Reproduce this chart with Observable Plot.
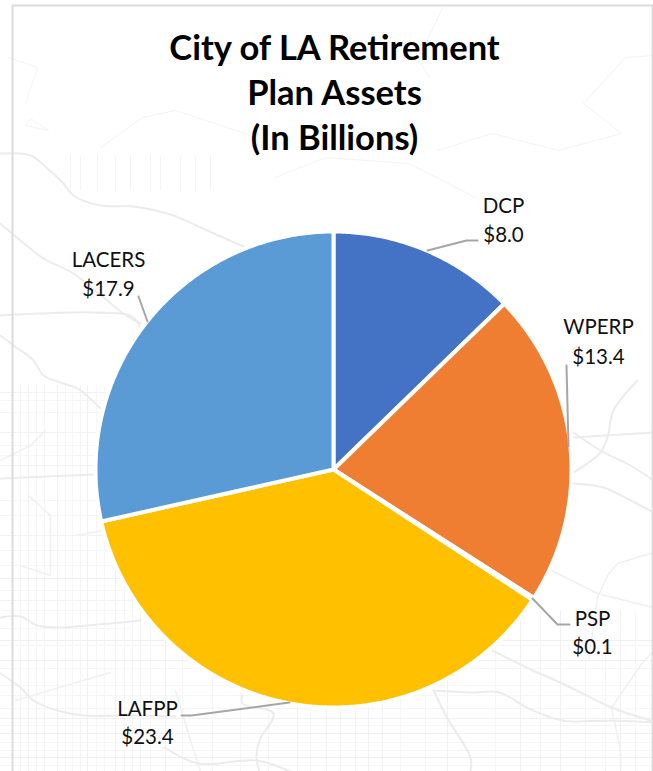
<!DOCTYPE html>
<html>
<head>
<meta charset="utf-8">
<script src="https://cdn.jsdelivr.net/npm/d3@7"></script>
<script src="https://cdn.jsdelivr.net/npm/@observablehq/plot@0.6"></script>
<style>html,body{margin:0;padding:0;background:#fff}svg{display:block}</style>
</head>
<body>
<div id="chart"></div>
<script>
// Chart data
const names = ["DCP", "WPERP", "PSP", "LAFPP", "LACERS"];
const assets = [8.0, 13.4, 0.1, 23.4, 17.9];
const sliceColors = ["#4472c4", "#ef7e32", "#a5a5a5", "#ffc000", "#5b9bd5"];
const titleLines = ["City of LA Retirement", "Plan Assets", "(In Billions)"];

// Layout (plot units are the page's pixels)
const W = 653, H = 771, cx = 333, cy = 469, R = 238;
const titleY = [59, 104, 149];
const labelX = [503, 598, 592, 147, 108];
const labelY = [212, 333, 625, 715, 266];
const labelStep = [29, 30, 28, 28, 29];
const leaders = [
  [[427, 250], [466, 240], [477, 240]],
  [[566, 365], [568, 446]],
  [[532, 598], [557, 624], [569, 624]],
  [[289, 702], [191, 715], [181, 715]],
  [[138, 296], [147, 321]]
];
const frame = [[12, 771], [12, 5], [652, 5], [652, 771]];

// Faint base map behind the chart
const highways = [
  [[0,153],[30,155],[47,168],[63,183],[73,195],[100,205],[133,206],[173,215],[200,227],[245,247]],
  [[0,223],[20,240],[43,258],[73,273],[103,297],[123,313],[140,323]],
  [[0,315],[40,313],[93,312],[133,317],[142,335]],
  [[0,335],[13,345],[33,360],[43,375],[60,382],[77,388],[100,408]],
  [[0,478],[93,474]],
  [[0,617],[20,616],[37,625],[57,627],[87,625],[120,622],[140,620]],
  [[0,673],[20,687],[33,700],[57,710],[83,715],[118,715],[175,716]],
  [[433,690],[470,692],[499,692],[528,708],[562,720],[613,720],[653,722]],
  [[433,690],[447,718],[470,757],[470,771]],
  [[492,650],[528,668],[562,683],[611,707],[650,720]],
  [[242,695],[242,703],[273,713],[259,740],[256,757],[259,771]],
  [[164,747],[198,763],[256,760],[290,771]],
  [[573,432],[600,450],[630,465],[653,480]],
  [[637,380],[613,410],[607,437],[600,452],[573,472]],
  [[572,483],[603,487],[630,500],[653,512]],
  [[573,437],[653,432]]
];
const minorRoads = [
  [[653,552],[617,563],[607,575],[597,597],[588,660]],
  [[545,567],[597,593],[653,607]],
  [[28,495],[50,515],[50,575],[20,565]],
  [[75,535],[115,528]],
  [[15,700],[110,672]],
  [[0,460],[30,445],[45,430]],
  [[175,690],[190,740],[200,771]],
  [[611,707],[640,665],[653,650]],
  [[611,707],[620,750],[620,771]]
];
const ridges = [
  [[442,7],[433,27],[417,57],[429,77]],
  [[8,57],[37,67],[25,103]],
  [[100,147],[142,117],[175,110],[245,133],[275,150]],
  [[275,177],[325,157],[408,163],[442,180],[475,197]],
  [[583,103],[625,57],[653,55]],
  [[583,103],[621,133],[558,150],[492,133],[437,150]],
  [[30,118],[48,130],[25,125],[30,118]]
];
const gridXLow = [28, 57, 87, 115, 140, 165, 297, 326, 368, 382, 447, 520, 560, 620];
const gridYLow = [640, 660, 718, 733, 757];
const gridYLeft = [392, 432, 465, 535, 578, 600];
const gridXFine = [20, 36, 44, 65, 72, 80, 96, 104, 124, 132, 150, 182, 212, 240, 268, 310, 340, 355, 400, 425, 495, 540, 585, 605, 635];
const gridYFine = [645, 668, 685, 695, 708, 725, 742, 750, 765];
const gridYFineLeft = [400, 412, 445, 455, 500, 515, 550, 565, 590, 610, 628];
const gridXUpland = [70, 80, 97, 115, 130, 150, 160, 180, 195, 210];

// Pie built from the values
const arcs = d3.pie().sort(null).value((d, i) => assets[i])(names);
const slices = names.flatMap((name, i) => {
  const a0 = arcs[i].startAngle, a1 = arcs[i].endAngle;
  const n = Math.max(2, Math.ceil((a1 - a0) / 0.01));
  const rim = d3.range(n + 1).map(k => a0 + (a1 - a0) * k / n);
  const pts = [{r: 0, a: a0}, ...rim.map(a => ({r: R, a})), {r: 0, a: a0}];
  return pts.map(p => ({name, x: cx + p.r * Math.sin(p.a), y: cy - p.r * Math.cos(p.a)}));
});

const toRows = (lists) => lists.flatMap((pts, id) => pts.map(([x, y]) => ({id, x, y})));
const labels = names.flatMap((name, i) => [
  {text: name, x: labelX[i], y: labelY[i]},
  {text: d3.format("$.1f")(assets[i]), x: labelX[i], y: labelY[i] + labelStep[i]}
]);
const titleRows = titleLines.map((text, i) => ({text, y: titleY[i]}));
const gridTop = x => (x > 500 ? 610 : 385);

const chart = Plot.plot({
  width: W, height: H,
  marginTop: 0, marginRight: 0, marginBottom: 0, marginLeft: 0,
  style: {background: "#fff", fontFamily: "Lato, sans-serif"},
  x: {domain: [0, W], range: [0, W], axis: null},
  y: {domain: [0, H], range: [0, H], axis: null},
  color: {domain: names, range: sliceColors},
  marks: [
    Plot.ruleX(gridXFine, {x: d => d, y1: gridTop, y2: H, stroke: "#f6f6f6", strokeWidth: 1}),
    Plot.ruleY(gridYFine, {y: d => d, x1: 0, x2: W, stroke: "#f6f6f6", strokeWidth: 1}),
    Plot.ruleY(gridYFineLeft, {y: d => d, x1: 0, x2: 130, stroke: "#f6f6f6", strokeWidth: 1}),
    Plot.ruleX(gridXLow, {x: d => d, y1: gridTop, y2: H, stroke: "#f1f1f1", strokeWidth: 1}),
    Plot.ruleX(gridXUpland, {x: d => d, y1: 155, y2: 190, stroke: "#f4f4f4", strokeWidth: 1}),
    Plot.ruleY(gridYLow, {y: d => d, x1: 0, x2: W, stroke: "#f0f0f0", strokeWidth: 1.2}),
    Plot.ruleY(gridYLeft, {y: d => d, x1: 0, x2: 140, stroke: "#f1f1f1", strokeWidth: 1.2}),
    Plot.line(toRows(ridges), {x: "x", y: "y", z: "id", stroke: "#f3f3f3", strokeWidth: 1}),
    Plot.line(toRows(minorRoads), {x: "x", y: "y", z: "id", stroke: "#f0f0f0", strokeWidth: 1.5}),
    Plot.line(toRows(highways), {x: "x", y: "y", z: "id", stroke: "#ececec", strokeWidth: 2, curve: "catmull-rom"}),
    Plot.line(frame, {x: d => d[0], y: d => d[1], stroke: "#dcdcdc", strokeWidth: 2}),
    Plot.line(slices, {x: "x", y: "y", fill: "name", stroke: "#fff", strokeWidth: 4}),
    Plot.line(toRows(leaders), {x: "x", y: "y", z: "id", stroke: "#a6a6a6", strokeWidth: 2}),
    Plot.text(titleRows, {x: cx + 1, y: "y", text: "text", lineAnchor: "bottom", fontSize: 34.5, fontWeight: 700, fill: "#000"}),
    Plot.text(labels, {x: "x", y: "y", text: "text", lineAnchor: "bottom", fontSize: 20.5, fill: "#111"})
  ]
});
document.getElementById("chart").append(chart);
</script>
</body>
</html>
